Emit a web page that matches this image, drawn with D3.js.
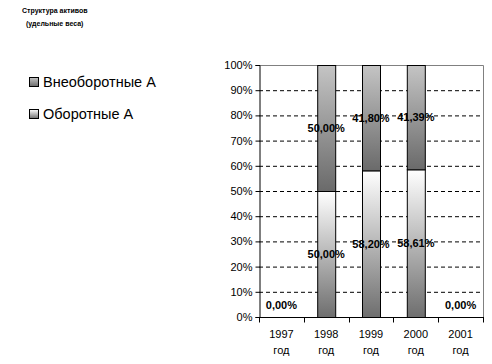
<!DOCTYPE html>
<html><head><meta charset="utf-8">
<script src="https://cdn.jsdelivr.net/npm/d3@7"></script>
<style>
body{margin:0;background:#fff;}
svg{display:block;font-family:"Liberation Sans",Arial,sans-serif;}
</style></head>
<body>
<svg id="c" width="492" height="364"></svg>
<script>
const categories = ["1997 год","1998 год","1999 год","2000 год","2001 год"];
const seriesNames = ["Оборотные А","Внеоборотные А"];
const current = [0, 50.00, 58.20, 58.61, 0];      // Оборотные А
const noncurrent = [0, 50.00, 41.80, 41.39, 0];   // Внеоборотные А
const yTicks = [0,10,20,30,40,50,60,70,80,90,100];

const svg = d3.select("#c");
const defs = svg.append("defs");
const g1 = defs.append("linearGradient").attr("id","gCur").attr("x1",0).attr("y1",0).attr("x2",0).attr("y2",1);
g1.append("stop").attr("offset","0%").attr("stop-color","#ffffff");
g1.append("stop").attr("offset","100%").attr("stop-color","#6e6e6e");
const g2 = defs.append("linearGradient").attr("id","gNon").attr("x1",0).attr("y1",0).attr("x2",0).attr("y2",1);
g2.append("stop").attr("offset","0%").attr("stop-color","#c4c4c4");
g2.append("stop").attr("offset","100%").attr("stop-color","#6a6a6a");

const L=259, R=483, T=65, B=317;
const x = d3.scaleBand().domain(categories).range([L,R]);
const y = d3.scaleLinear().domain([0,100]).range([B,T]);

// title
svg.append("text").attr("x",22).attr("y",13).attr("font-size",7).attr("font-weight","bold").text("Структура активов");
svg.append("text").attr("x",26).attr("y",26).attr("font-size",7).attr("font-weight","bold").text("(удельные веса)");

// gridlines
svg.append("g").selectAll("line").data(yTicks.filter(d=>d>0&&d<100)).join("line")
  .attr("x1",L).attr("x2",R).attr("y1",d=>y(d)+0.5).attr("y2",d=>y(d)+0.5)
  .attr("stroke","#000").attr("stroke-dasharray","4,3");
// plot border top/right
svg.append("path").attr("d",`M${L},${T+0.5}H${R+0.5}V${B}`).attr("fill","none").attr("stroke","#808080");

// bars
const bw = 18;
const data = categories.map((c,i)=>({c, cur:current[i], non:noncurrent[i]}));
const bars = svg.append("g");
data.forEach(d=>{
  const cx = x(d.c)+x.bandwidth()/2;
  if(d.cur>0) bars.append("rect").attr("x",cx-bw/2+0.5).attr("y",y(d.cur)+0.5).attr("width",bw).attr("height",y(0)-y(d.cur))
    .attr("fill","url(#gCur)").attr("stroke","#000");
  if(d.non>0) bars.append("rect").attr("x",cx-bw/2+0.5).attr("y",y(d.cur+d.non)+0.5).attr("width",bw).attr("height",y(d.cur)-y(d.cur+d.non))
    .attr("fill","url(#gNon)").attr("stroke","#000");
});

// axes
const yAxis = d3.axisLeft(y).tickValues(yTicks).tickFormat(d=>d+"%").tickSize(4).tickPadding(3);
const ya = svg.append("g").attr("transform",`translate(${L+0.5},0)`).call(yAxis);
ya.selectAll("text").attr("font-size",11).attr("font-family","Liberation Sans, Arial").attr("fill","#000");
ya.select(".domain").attr("stroke","#000");
const xa = svg.append("g").attr("transform",`translate(0,${B+0.5})`);
xa.append("line").attr("x1",L).attr("x2",R+1).attr("stroke","#000");
xa.selectAll("line.t").data(d3.range(categories.length+1)).join("line").attr("class","t")
  .attr("x1",i=>Math.round(L+i*x.step())+0.5).attr("x2",i=>Math.round(L+i*x.step())+0.5).attr("y1",0).attr("y2",5).attr("stroke","#000");
categories.forEach(c=>{
  const parts=c.split(" ");
  const t = xa.append("text").attr("text-anchor","middle").attr("font-size",11).attr("x",x(c)+x.bandwidth()/2);
  t.append("tspan").attr("x",x(c)+x.bandwidth()/2).attr("y",20).text(parts[0]);
  t.append("tspan").attr("x",x(c)+x.bandwidth()/2).attr("y",36).text(parts[1]);
});

// labels
const fmt = v=>v.toFixed(2).replace(".",",")+"%";
const lab = svg.append("g").attr("font-size",11).attr("font-weight","bold").attr("text-anchor","middle");
data.forEach(d=>{
  const cx = x(d.c)+x.bandwidth()/2;
  if(d.cur>0){
    lab.append("text").attr("x",cx).attr("y",y(d.cur/2)+4).text(fmt(d.cur));
    lab.append("text").attr("x",cx).attr("y",y(d.cur+d.non/2)+4).text(fmt(d.non));
  } else {
    lab.append("text").attr("x",cx).attr("y",y(0)-8).text(fmt(d.cur));
  }
});

// legend
const leg = svg.append("g");
[[seriesNames[1],"url(#gNon)",77],[seriesNames[0],"url(#gCur)",109]].forEach(([n,f,yy])=>{
  leg.append("rect").attr("x",29.5).attr("y",yy+0.5).attr("width",9).attr("height",9).attr("fill",f).attr("stroke","#000");
  leg.append("text").attr("x",43).attr("y",yy+10).attr("font-size",14.5).text(n);
});
</script>
</body></html>
